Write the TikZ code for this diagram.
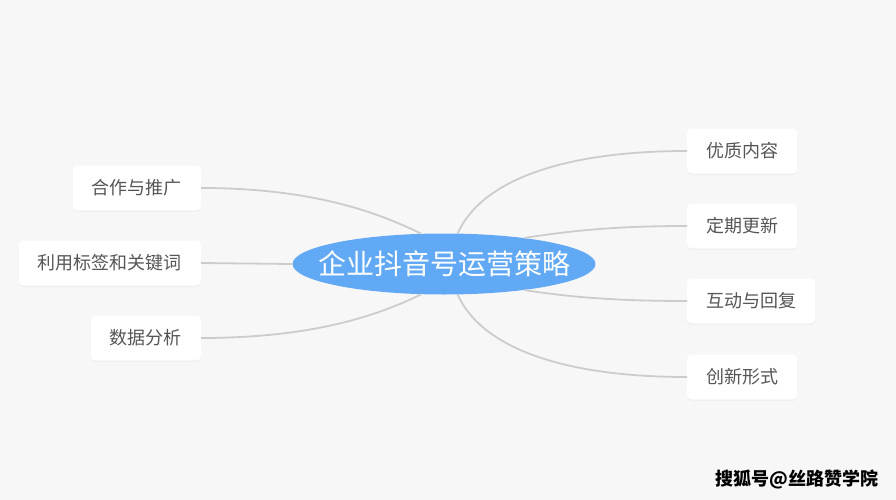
\documentclass[tikz,border=0pt]{standalone}
\usepackage{fontspec}
\newfontfamily\cjk{Noto Sans CJK SC}
\usetikzlibrary{shapes.geometric,shadows}
\definecolor{sfondo}{HTML}{F7F7F7}
\definecolor{azzurro}{HTML}{62A9F5}
\definecolor{grigioramo}{HTML}{CCCCCC}
\definecolor{testo}{HTML}{555555}
\tikzset{
  voce/.style={fill=white, rounded corners=4pt, minimum height=45pt, inner xsep=19pt,
    font=\cjk\fontsize{18}{20}\selectfont, text=testo,
    drop shadow={opacity=0.10, shadow xshift=0pt, shadow yshift=-1pt}},
  ramo/.style={draw=grigioramo, line width=1.8pt}
}
\begin{document}
\begin{tikzpicture}[x=1pt, y=-1pt]
        % Sfondo
        \fill[sfondo] (0,0) rectangle (896,500);

        % Nodo centrale
        \node[ellipse, fill=azzurro, minimum width=303pt, minimum height=61pt, inner sep=0pt,
              label={[text=white, font=\cjk\fontsize{28}{30}\selectfont]center:企业抖音号运营策略}]
              (centro) at (444,264) {};

        % Voci a sinistra
        \node[voce, anchor=east] (cooperazione) at (201,188) {合作与推广};
        \node[voce, anchor=east] (etichette) at (201,263) {利用标签和关键词};
        \node[voce, anchor=east] (dati) at (201,338) {数据分析};

        % Voci a destra
        \node[voce, anchor=west] (contenuto) at (687,151) {优质内容};
        \node[voce, anchor=west] (aggiorna) at (687,226) {定期更新};
        \node[voce, anchor=west] (interazione) at (687,301) {互动与回复};
        \node[voce, anchor=west] (forme) at (687,377) {创新形式};

        % Collegamenti
        \draw[ramo] (cooperazione.east) .. controls +(110,0) and +(-45,-22) .. (centro.127);
        \draw[ramo] (etichette.east) -- (centro.west);
        \draw[ramo] (dati.east) .. controls +(110,0) and +(-45,22) .. (centro.233);
        \draw[ramo] (contenuto.west) .. controls +(-120,0) and +(25,-55) .. (centro.66);
        \draw[ramo] (aggiorna.west) .. controls +(-80,0) and +(40,-6) .. (centro.18);
        \draw[ramo] (interazione.west) .. controls +(-80,0) and +(40,6) .. (centro.-18);
        \draw[ramo] (forme.west) .. controls +(-120,0) and +(25,55) .. (centro.-66);

        % Firma
        \node[font=\cjk\bfseries\fontsize{18}{20}\selectfont, text=black] (firma) at (797,479) {搜狐号@丝路赞学院};
    \end{tikzpicture}
\end{document}
